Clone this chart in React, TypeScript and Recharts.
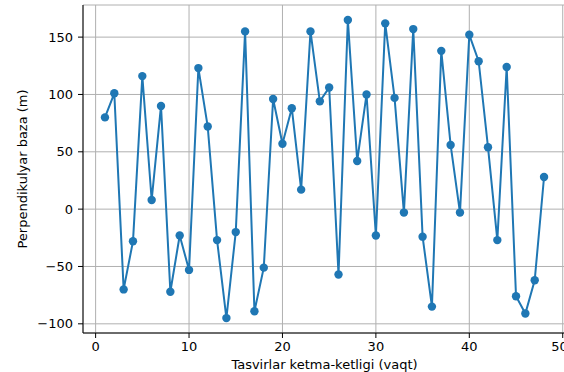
import { LineChart, Line, XAxis, YAxis, CartesianGrid } from "recharts";

// Tasvir tartib raqamlari (1..48)
const frames = [
  1, 2, 3, 4, 5, 6, 7, 8, 9, 10, 11, 12, 13, 14, 15, 16, 17, 18, 19, 20, 21, 22, 23, 24,
  25, 26, 27, 28, 29, 30, 31, 32, 33, 34, 35, 36, 37, 38, 39, 40, 41, 42, 43, 44, 45, 46, 47, 48,
];

// Perpendikulyar baza qiymatlari (m)
const baseline = [
  80, 101, -70, -28, 116, 8, 90, -72, -23, -53, 123, 72, -27, -95, -20, 155, -89, -51, 96, 57, 88, 17, 155, 94,
  106, -57, 165, 42, 100, -23, 162, 97, -3, 157, -24, -85, 138, 56, -3, 152, 129, 54, -27, 124, -76, -91, -62, 28,
];

const xTicks = [0, 10, 20, 30, 40, 50];
const yTicks = [-100, -50, 0, 50, 100, 150];

const data = frames.map((f, i) => ({ frame: f, value: baseline[i] }));

const font = { fontFamily: "DejaVu Sans", fontSize: 13, fill: "#000" };

export default function App() {
  return (
    <div style={{ position: "absolute", left: 0, top: 0, width: 564, height: 372, overflow: "hidden", background: "#fff" }}>
      <LineChart width={566} height={372} data={data} margin={{ top: 5, right: 0, left: 0, bottom: 0 }}>
        <CartesianGrid stroke="#b0b0b0" strokeWidth={1} />
        <XAxis
          dataKey="frame"
          type="number"
          domain={[-1.35, 50.35]}
          ticks={xTicks}
          allowDataOverflow
          height={39}
          tickSize={5}
          tickMargin={4}
          tick={font}
          axisLine={{ stroke: "#000" }}
          tickLine={{ stroke: "#000" }}
          label={{ value: "Tasvirlar ketma-ketligi (vaqt)", position: "insideBottom", offset: 3, ...font }}
        />
        <XAxis xAxisId="top" orientation="top" type="number" domain={[0, 1]} height={0} tick={false} tickLine={false} axisLine={{ stroke: "#000" }} />
        <YAxis
          type="number"
          domain={[-108, 178]}
          ticks={yTicks}
          allowDataOverflow
          width={83}
          tickSize={5}
          tickMargin={5}
          tick={font}
          axisLine={{ stroke: "#000" }}
          tickLine={{ stroke: "#000" }}
          tickFormatter={(v: number) => (v < 0 ? `\u2212${Math.abs(v)}` : `${v}`)}
          label={{ value: "Perpendikulyar baza (m)", angle: -90, position: "center", dx: -19, ...font }}
        />
        <Line
          type="linear"
          dataKey="value"
          stroke="#1f77b4"
          strokeWidth={2}
          dot={{ r: 4.2, fill: "#1f77b4", stroke: "#1f77b4", strokeWidth: 0 }}
          activeDot={false}
          isAnimationActive={false}
        />
      </LineChart>
    </div>
  );
}
